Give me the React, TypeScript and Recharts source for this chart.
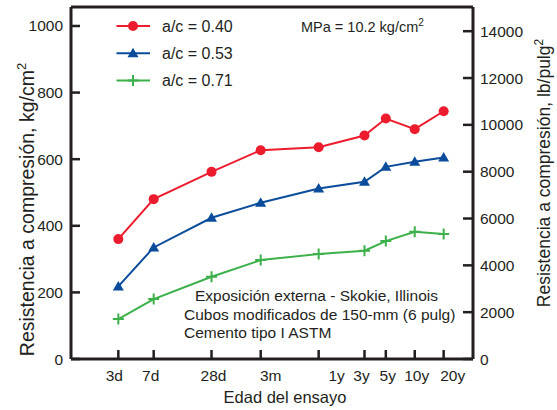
import React from 'react';
import { LineChart, Line, XAxis, YAxis, Legend, ReferenceLine } from 'recharts';

// Edad del ensayo, en días (eje logarítmico)
const AGES = [3, 7, 28, 91, 365, 1095, 1825, 3650, 7300];
const AGE_LABELS = ['3d', '7d', '28d', '3m', '1y', '3y', '5y', '10y', '20y'];

// Resistencia a compresión, kg/cm2
const AC_040 = [360, 480, 562, 627, 636, 671, 722, 690, 744];
const AC_053 = [218, 335, 424, 469, 512, 532, 577, 592, 605];
const AC_071 = [120, 180, 247, 297, 315, 325, 354, 382, 375];

const SERIES_NAMES = ['a/c = 0.40', 'a/c = 0.53', 'a/c = 0.71'];
const KG_TICKS = [0, 200, 400, 600, 800, 1000];
const PSI_TICKS = [0, 2000, 4000, 6000, 8000, 10000, 12000, 14000];
const NOTES = [
  'Exposición externa - Skokie, Illinois',
  'Cubos modificados de 150-mm (6 pulg)',
  'Cemento tipo I ASTM',
];

const KG_MAX = 1057;
const PSI_MAX = KG_MAX * 14.223;

const FONT = '"Liberation Sans", Arial, sans-serif';
const INK = '#231f20';
const RED = '#ec1c2e';
const BLUE = '#0b4c9b';
const GREEN = '#3cb04a';

// the original puts some x labels a little off their tick
const LABEL_SHIFT = [-4, -3, 2, 10, 18, -3, 2, 2, 9];

const rows = AGES.map((age, i) => ({ age, ac040: AC_040[i], ac053: AC_053[i], ac071: AC_071[i] }));

const CircleMark = ({ cx, cy, color }: any) => <circle cx={cx} cy={cy} r={5} fill={color} />;
const TriangleMark = ({ cx, cy, color }: any) => (
  <path d={`M${cx},${cy - 5.5}L${cx + 5.5},${cy + 4}L${cx - 5.5},${cy + 4}Z`} fill={color} />
);
const PlusMark = ({ cx, cy, color }: any) => (
  <path d={`M${cx - 5.5},${cy}H${cx + 5.5}M${cx},${cy - 5.5}V${cy + 5.5}`} stroke={color} strokeWidth={2} fill="none" />
);
const MARKS = [CircleMark, TriangleMark, PlusMark];
const COLORS = [RED, BLUE, GREEN];

const LeftTick = ({ x, y, payload }: any) => (
  <g>
    <line x1={x + 8} x2={x + 17} y1={y} y2={y} stroke={INK} strokeWidth={2.5} />
    <text x={x} y={y + 5.5} textAnchor="end" fontSize={15.5} fontFamily={FONT} fill={INK}>
      {payload.value}
    </text>
  </g>
);

const RightTick = ({ x, y, payload }: any) => (
  <g>
    <line x1={x - 7} x2={x - 17} y1={y} y2={y} stroke={INK} strokeWidth={2.5} />
    <text x={x} y={y + 5.5} textAnchor="start" fontSize={15.5} fontFamily={FONT} fill={INK}>
      {payload.value}
    </text>
  </g>
);

const BottomTick = ({ x, y, payload }: any) => {
  const i = AGES.indexOf(payload.value);
  return (
    <g>
      <line x1={x} x2={x} y1={y} y2={y - 9} stroke={INK} strokeWidth={2.5} />
      <text x={x + (LABEL_SHIFT[i] || 0)} y={y + 22} textAnchor="middle" fontSize={15.5} fontFamily={FONT} fill={INK}>
        {AGE_LABELS[i]}
      </text>
    </g>
  );
};

const LegendBox = () => (
  <svg width={150} height={82} style={{ display: 'block' }}>
    {SERIES_NAMES.map((name, i) => {
      const Mark = MARKS[i];
      const cy = 14 + i * 27.3;
      return (
        <g key={name}>
          <line x1={6.5} x2={40} y1={cy} y2={cy} stroke={COLORS[i]} strokeWidth={2} />
          <Mark cx={23} cy={cy} color={COLORS[i]} />
          <text x={52} y={cy + 5.5} fontSize={16} fontFamily={FONT} fill={INK}>
            {name}
          </text>
        </g>
      );
    })}
  </svg>
);

const dotFor = (i: number) => (p: any) => {
  const Mark = MARKS[i];
  return <Mark key={`m-${i}-${p.index}`} cx={p.cx} cy={p.cy} color={COLORS[i]} />;
};

export default function App() {
  return (
    <div style={{ position: 'absolute', left: 0, top: 0, width: 557, height: 410, background: '#fff' }}>
      <LineChart width={557} height={410} data={rows} margin={{ top: 7, right: 24, left: 11, bottom: 21 }}>
        <XAxis
          dataKey="age"
          type="number"
          scale="log"
          domain={[0.965, 14750]}
          allowDataOverflow
          ticks={AGES}
          interval={0}
          tickSize={0}
          tickMargin={0}
          tickLine={false}
          tick={<BottomTick />}
          height={30}
          axisLine={{ stroke: INK, strokeWidth: 3 }}
        />
        <YAxis
          yAxisId="kg"
          domain={[0, KG_MAX]}
          allowDataOverflow
          ticks={KG_TICKS}
          interval={0}
          width={60}
          tickSize={0}
          tickMargin={8}
          tickLine={false}
          tick={<LeftTick />}
          axisLine={{ stroke: INK, strokeWidth: 3 }}
        />
        <YAxis
          yAxisId="psi"
          orientation="right"
          domain={[0, PSI_MAX]}
          allowDataOverflow
          ticks={PSI_TICKS}
          interval={0}
          width={60}
          tickSize={0}
          tickMargin={7}
          tickLine={false}
          tick={<RightTick />}
          axisLine={{ stroke: INK, strokeWidth: 3 }}
        />
        <ReferenceLine yAxisId="kg" y={KG_MAX} stroke={INK} strokeWidth={3} />
        <Legend
          layout="vertical"
          align="center"
          verticalAlign="middle"
          content={<LegendBox />}
          wrapperStyle={{ left: 110, top: 12, width: 150, height: 82 }}
        />
        <Line yAxisId="kg" dataKey="ac040" name={SERIES_NAMES[0]} stroke={RED} strokeWidth={2} dot={dotFor(0)} isAnimationActive={false} />
        <Line yAxisId="kg" dataKey="ac053" name={SERIES_NAMES[1]} stroke={BLUE} strokeWidth={2} dot={dotFor(1)} isAnimationActive={false} />
        <Line yAxisId="kg" dataKey="ac071" name={SERIES_NAMES[2]} stroke={GREEN} strokeWidth={2} dot={dotFor(2)} isAnimationActive={false} />
      </LineChart>
      <svg width={557} height={410} style={{ position: 'absolute', left: 0, top: 0, pointerEvents: 'none' }}>
        <g fontFamily={FONT} fill={INK}>
          <text x={301} y={31.5} fontSize={14.5}>
            MPa = 10.2 kg/cm<tspan dy={-6} fontSize={10}>2</tspan>
          </text>
          {NOTES.map((t, i) => (
            <text key={t} x={i === 0 ? 195 : 184} y={300.7 + i * 18.8} fontSize={15.5}>
              {t}
            </text>
          ))}
          <text x={285} y={402.5} fontSize={16.5} textAnchor="middle">
            Edad del ensayo
          </text>
          <text transform="translate(33.5,209.5) rotate(-90)" fontSize={19.5} textAnchor="middle">
            Resistencia a compresión, kg/cm<tspan dy={-8} fontSize={13}>2</tspan>
          </text>
          <text transform="translate(550,173) rotate(-90)" fontSize={17.5} textAnchor="middle">
            Resistencia a compresión, lb/pulg<tspan dy={-7} fontSize={12}>2</tspan>
          </text>
        </g>
      </svg>
    </div>
  );
}
